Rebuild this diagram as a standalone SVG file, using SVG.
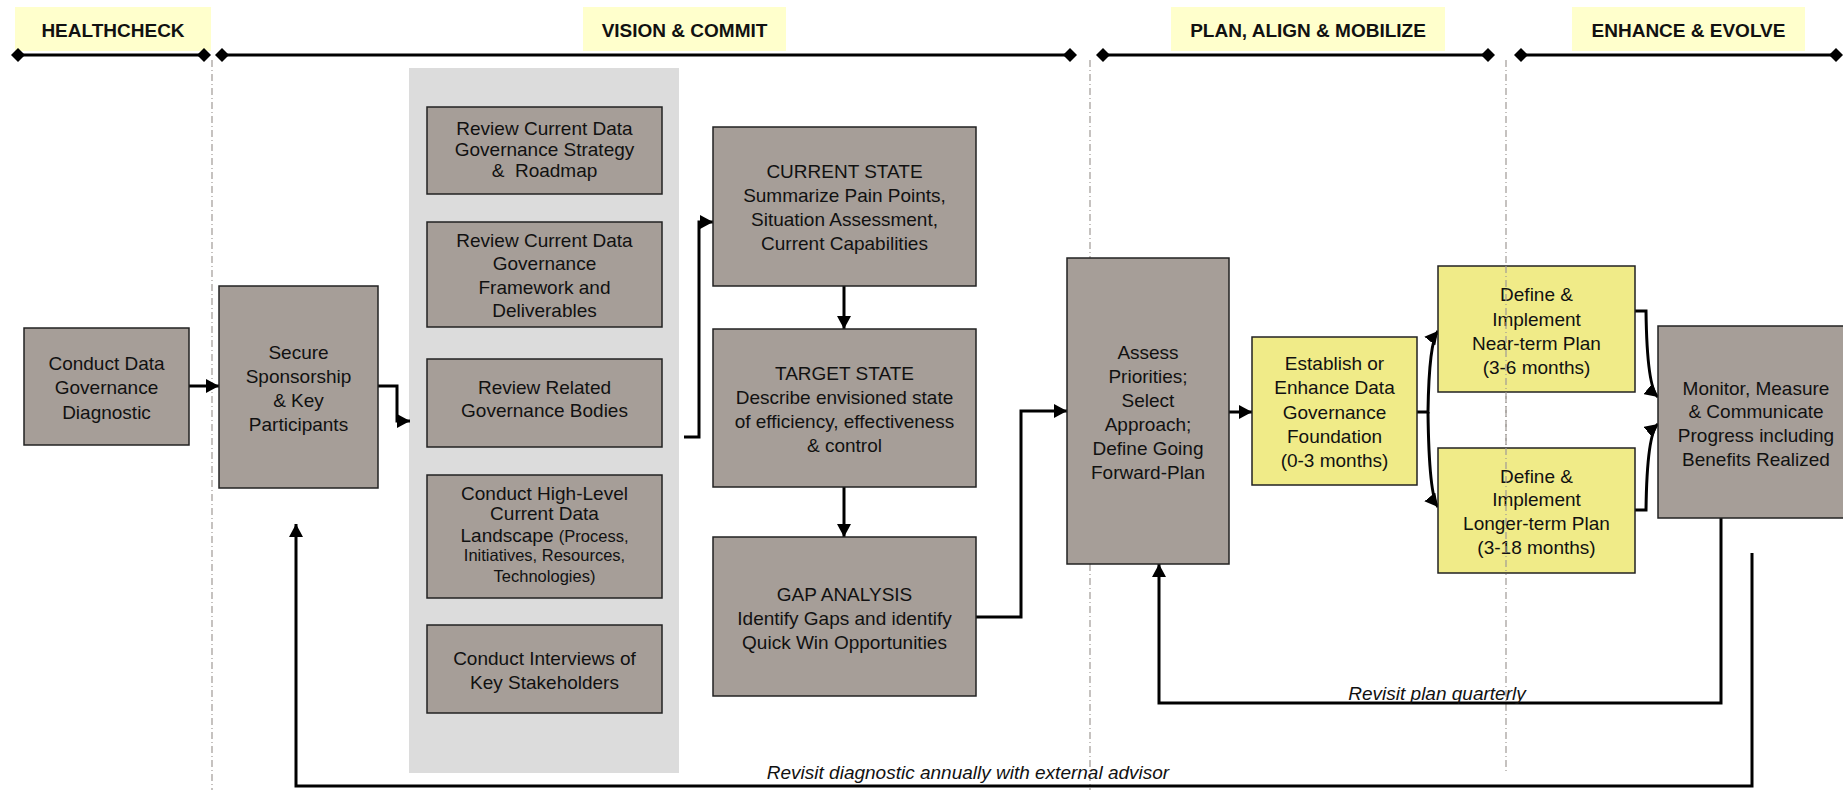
<svg xmlns="http://www.w3.org/2000/svg" width="1843" height="790" viewBox="0 0 1843 790">
<style>
.hdr{fill:#ffffcc}
.ht{font-family:"Liberation Sans",Arial,sans-serif;font-size:19px;font-weight:bold;fill:#111;text-anchor:middle}
.tl{stroke:#000;stroke-width:3;fill:none}
.dash{stroke:#a09a96;stroke-width:1.2;stroke-dasharray:7 3 1 3;fill:none}
.g{fill:#a69e98;stroke:#222;stroke-width:1.5}
.y{fill:#f0eb88;stroke:#222;stroke-width:1.5}
.t{font-family:"Liberation Sans",Arial,sans-serif;font-size:19px;fill:#111;text-anchor:middle}
.s{font-size:16.5px}
.c{stroke:#000;stroke-width:3;fill:none}
.it{font-family:"Liberation Sans",Arial,sans-serif;font-size:19px;font-style:italic;fill:#111;text-anchor:middle}
</style>
<defs>
<marker id="ah" markerUnits="userSpaceOnUse" markerWidth="14" markerHeight="14" refX="13" refY="7" orient="auto" viewBox="0 0 14 14">
<path d="M0,0 L13,7 L0,14 z" fill="#000"/>
</marker>
<marker id="dm" markerUnits="userSpaceOnUse" markerWidth="16" markerHeight="16" refX="8" refY="8" orient="auto" viewBox="0 0 16 16">
<path d="M1,8 L8,1 L15,8 L8,15 z" fill="#000"/>
</marker>
</defs>
<rect width="1843" height="790" fill="#fff"/>

<g id="phases">
<rect class="hdr" x="15" y="7" width="196" height="44"/>
<text class="ht" x="113" y="37">HEALTHCHECK</text>
<rect class="hdr" x="583" y="7" width="203" height="44"/>
<text class="ht" x="684.5" y="37">VISION &amp; COMMIT</text>
<rect class="hdr" x="1171" y="7" width="274" height="44"/>
<text class="ht" x="1308" y="37">PLAN, ALIGN &amp; MOBILIZE</text>
<rect class="hdr" x="1572" y="7" width="233" height="44"/>
<text class="ht" x="1688.5" y="37">ENHANCE &amp; EVOLVE</text>
<path class="tl" d="M18,55 H204" marker-start="url(#dm)" marker-end="url(#dm)"/>
<path class="tl" d="M222,55 H1070" marker-start="url(#dm)" marker-end="url(#dm)"/>
<path class="tl" d="M1103,55 H1488" marker-start="url(#dm)" marker-end="url(#dm)"/>
<path class="tl" d="M1521,55 H1836" marker-start="url(#dm)" marker-end="url(#dm)"/>
<path class="dash" d="M212,60 V790"/>
<path class="dash" d="M1090,60 V790"/>
<path class="dash" d="M1506,60 V773"/>
</g>

<rect id="panel" x="409" y="68" width="270" height="705" fill="#dcdcdc"/>

<g id="connectors">
<path class="c" d="M189,386 H219" marker-end="url(#ah)"/>
<path class="c" d="M378,386 H397 V421 H410" marker-end="url(#ah)"/>
<path class="c" d="M684,437 H699 V222 H713" marker-end="url(#ah)"/>
<path class="c" d="M844,286 V329" marker-end="url(#ah)"/>
<path class="c" d="M844,487 V537" marker-end="url(#ah)"/>
<path class="c" d="M976,617 H1021 V411 H1067" marker-end="url(#ah)"/>
<path class="c" d="M1229,412 H1252" marker-end="url(#ah)"/>
<path class="c" d="M1417,412 H1428 Q1429,342 1438,331" marker-end="url(#ah)"/>
<path class="c" d="M1428,412 Q1429,496 1438,507" marker-end="url(#ah)"/>
<path class="c" d="M1635,311 H1646 Q1647,388 1658,397" marker-end="url(#ah)"/>
<path class="c" d="M1635,510 H1646 Q1647,433 1658,424" marker-end="url(#ah)"/>
<path class="c" d="M1721,518 V703 H1159 V564" marker-end="url(#ah)"/>
<path class="c" d="M1752,553 V786 H296 V524" marker-end="url(#ah)"/>
<text class="it" x="1437" y="700">Revisit plan quarterly</text>
<text class="it" x="968" y="779">Revisit diagnostic annually with external advisor</text>
</g>

<g id="diagnostic">
<rect class="g" x="24" y="328" width="165" height="117"/>
<text class="t" x="106.5" y="370">Conduct Data</text>
<text class="t" x="106.5" y="394">Governance</text>
<text class="t" x="106.5" y="419">Diagnostic</text>
</g>

<g id="sponsorship">
<rect class="g" x="219" y="286" width="159" height="202"/>
<text class="t" x="298.5" y="359">Secure</text>
<text class="t" x="298.5" y="383">Sponsorship</text>
<text class="t" x="298.5" y="407">&amp; Key</text>
<text class="t" x="298.5" y="431">Participants</text>
</g>

<g id="review-strategy">
<rect class="g" x="427" y="107" width="235" height="87"/>
<text class="t" x="544.5" y="135">Review Current Data</text>
<text class="t" x="544.5" y="156">Governance Strategy</text>
<text class="t" x="544.5" y="177" xml:space="preserve">&amp;  Roadmap</text>
</g>

<g id="review-framework">
<rect class="g" x="427" y="222" width="235" height="105"/>
<text class="t" x="544.5" y="247">Review Current Data</text>
<text class="t" x="544.5" y="270">Governance</text>
<text class="t" x="544.5" y="294">Framework and</text>
<text class="t" x="544.5" y="317">Deliverables</text>
</g>

<g id="review-bodies">
<rect class="g" x="427" y="359" width="235" height="88"/>
<text class="t" x="544.5" y="394">Review Related</text>
<text class="t" x="544.5" y="417">Governance Bodies</text>
</g>

<g id="landscape">
<rect class="g" x="427" y="475" width="235" height="123"/>
<text class="t" x="544.5" y="500">Conduct High-Level</text>
<text class="t" x="544.5" y="520">Current Data</text>
<text class="t" x="544.5" y="542">Landscape <tspan class="s">(Process,</tspan></text>
<text class="t s" x="544.5" y="561">Initiatives, Resources,</text>
<text class="t s" x="544.5" y="582">Technologies)</text>
</g>

<g id="interviews">
<rect class="g" x="427" y="625" width="235" height="88"/>
<text class="t" x="544.5" y="665">Conduct Interviews of</text>
<text class="t" x="544.5" y="689">Key Stakeholders</text>
</g>

<g id="current-state">
<rect class="g" x="713" y="127" width="263" height="159"/>
<text class="t" x="844.5" y="178">CURRENT STATE</text>
<text class="t" x="844.5" y="202">Summarize Pain Points,</text>
<text class="t" x="844.5" y="226">Situation Assessment,</text>
<text class="t" x="844.5" y="250">Current Capabilities</text>
</g>

<g id="target-state">
<rect class="g" x="713" y="329" width="263" height="158"/>
<text class="t" x="844.5" y="380">TARGET STATE</text>
<text class="t" x="844.5" y="404">Describe envisioned state</text>
<text class="t" x="844.5" y="428">of efficiency, effectiveness</text>
<text class="t" x="844.5" y="452">&amp; control</text>
</g>

<g id="gap-analysis">
<rect class="g" x="713" y="537" width="263" height="159"/>
<text class="t" x="844.5" y="601">GAP ANALYSIS</text>
<text class="t" x="844.5" y="625">Identify Gaps and identify</text>
<text class="t" x="844.5" y="649">Quick Win Opportunities</text>
</g>

<g id="assess">
<rect class="g" x="1067" y="258" width="162" height="306"/>
<text class="t" x="1148" y="359">Assess</text>
<text class="t" x="1148" y="383">Priorities;</text>
<text class="t" x="1148" y="407">Select</text>
<text class="t" x="1148" y="431">Approach;</text>
<text class="t" x="1148" y="455">Define Going</text>
<text class="t" x="1148" y="479">Forward-Plan</text>
</g>

<g id="foundation">
<rect class="y" x="1252" y="337" width="165" height="148"/>
<text class="t" x="1334.5" y="370">Establish or</text>
<text class="t" x="1334.5" y="394">Enhance Data</text>
<text class="t" x="1334.5" y="419">Governance</text>
<text class="t" x="1334.5" y="443">Foundation</text>
<text class="t" x="1334.5" y="467">(0-3 months)</text>
</g>

<g id="near-term">
<rect class="y" x="1438" y="266" width="197" height="126"/>
<text class="t" x="1536.5" y="301">Define &amp;</text>
<text class="t" x="1536.5" y="326">Implement</text>
<text class="t" x="1536.5" y="350">Near-term Plan</text>
<text class="t" x="1536.5" y="374">(3-6 months)</text>
</g>

<g id="longer-term">
<rect class="y" x="1438" y="448" width="197" height="125"/>
<text class="t" x="1536.5" y="483">Define &amp;</text>
<text class="t" x="1536.5" y="506">Implement</text>
<text class="t" x="1536.5" y="530">Longer-term Plan</text>
<text class="t" x="1536.5" y="554">(3-18 months)</text>
</g>

<g id="monitor">
<rect class="g" x="1658" y="326" width="196" height="192"/>
<text class="t" x="1756" y="395">Monitor, Measure</text>
<text class="t" x="1756" y="418">&amp; Communicate</text>
<text class="t" x="1756" y="442">Progress including</text>
<text class="t" x="1756" y="466">Benefits Realized</text>
</g>

<path class="dash" d="M1506,266 V573"/>
</svg>
